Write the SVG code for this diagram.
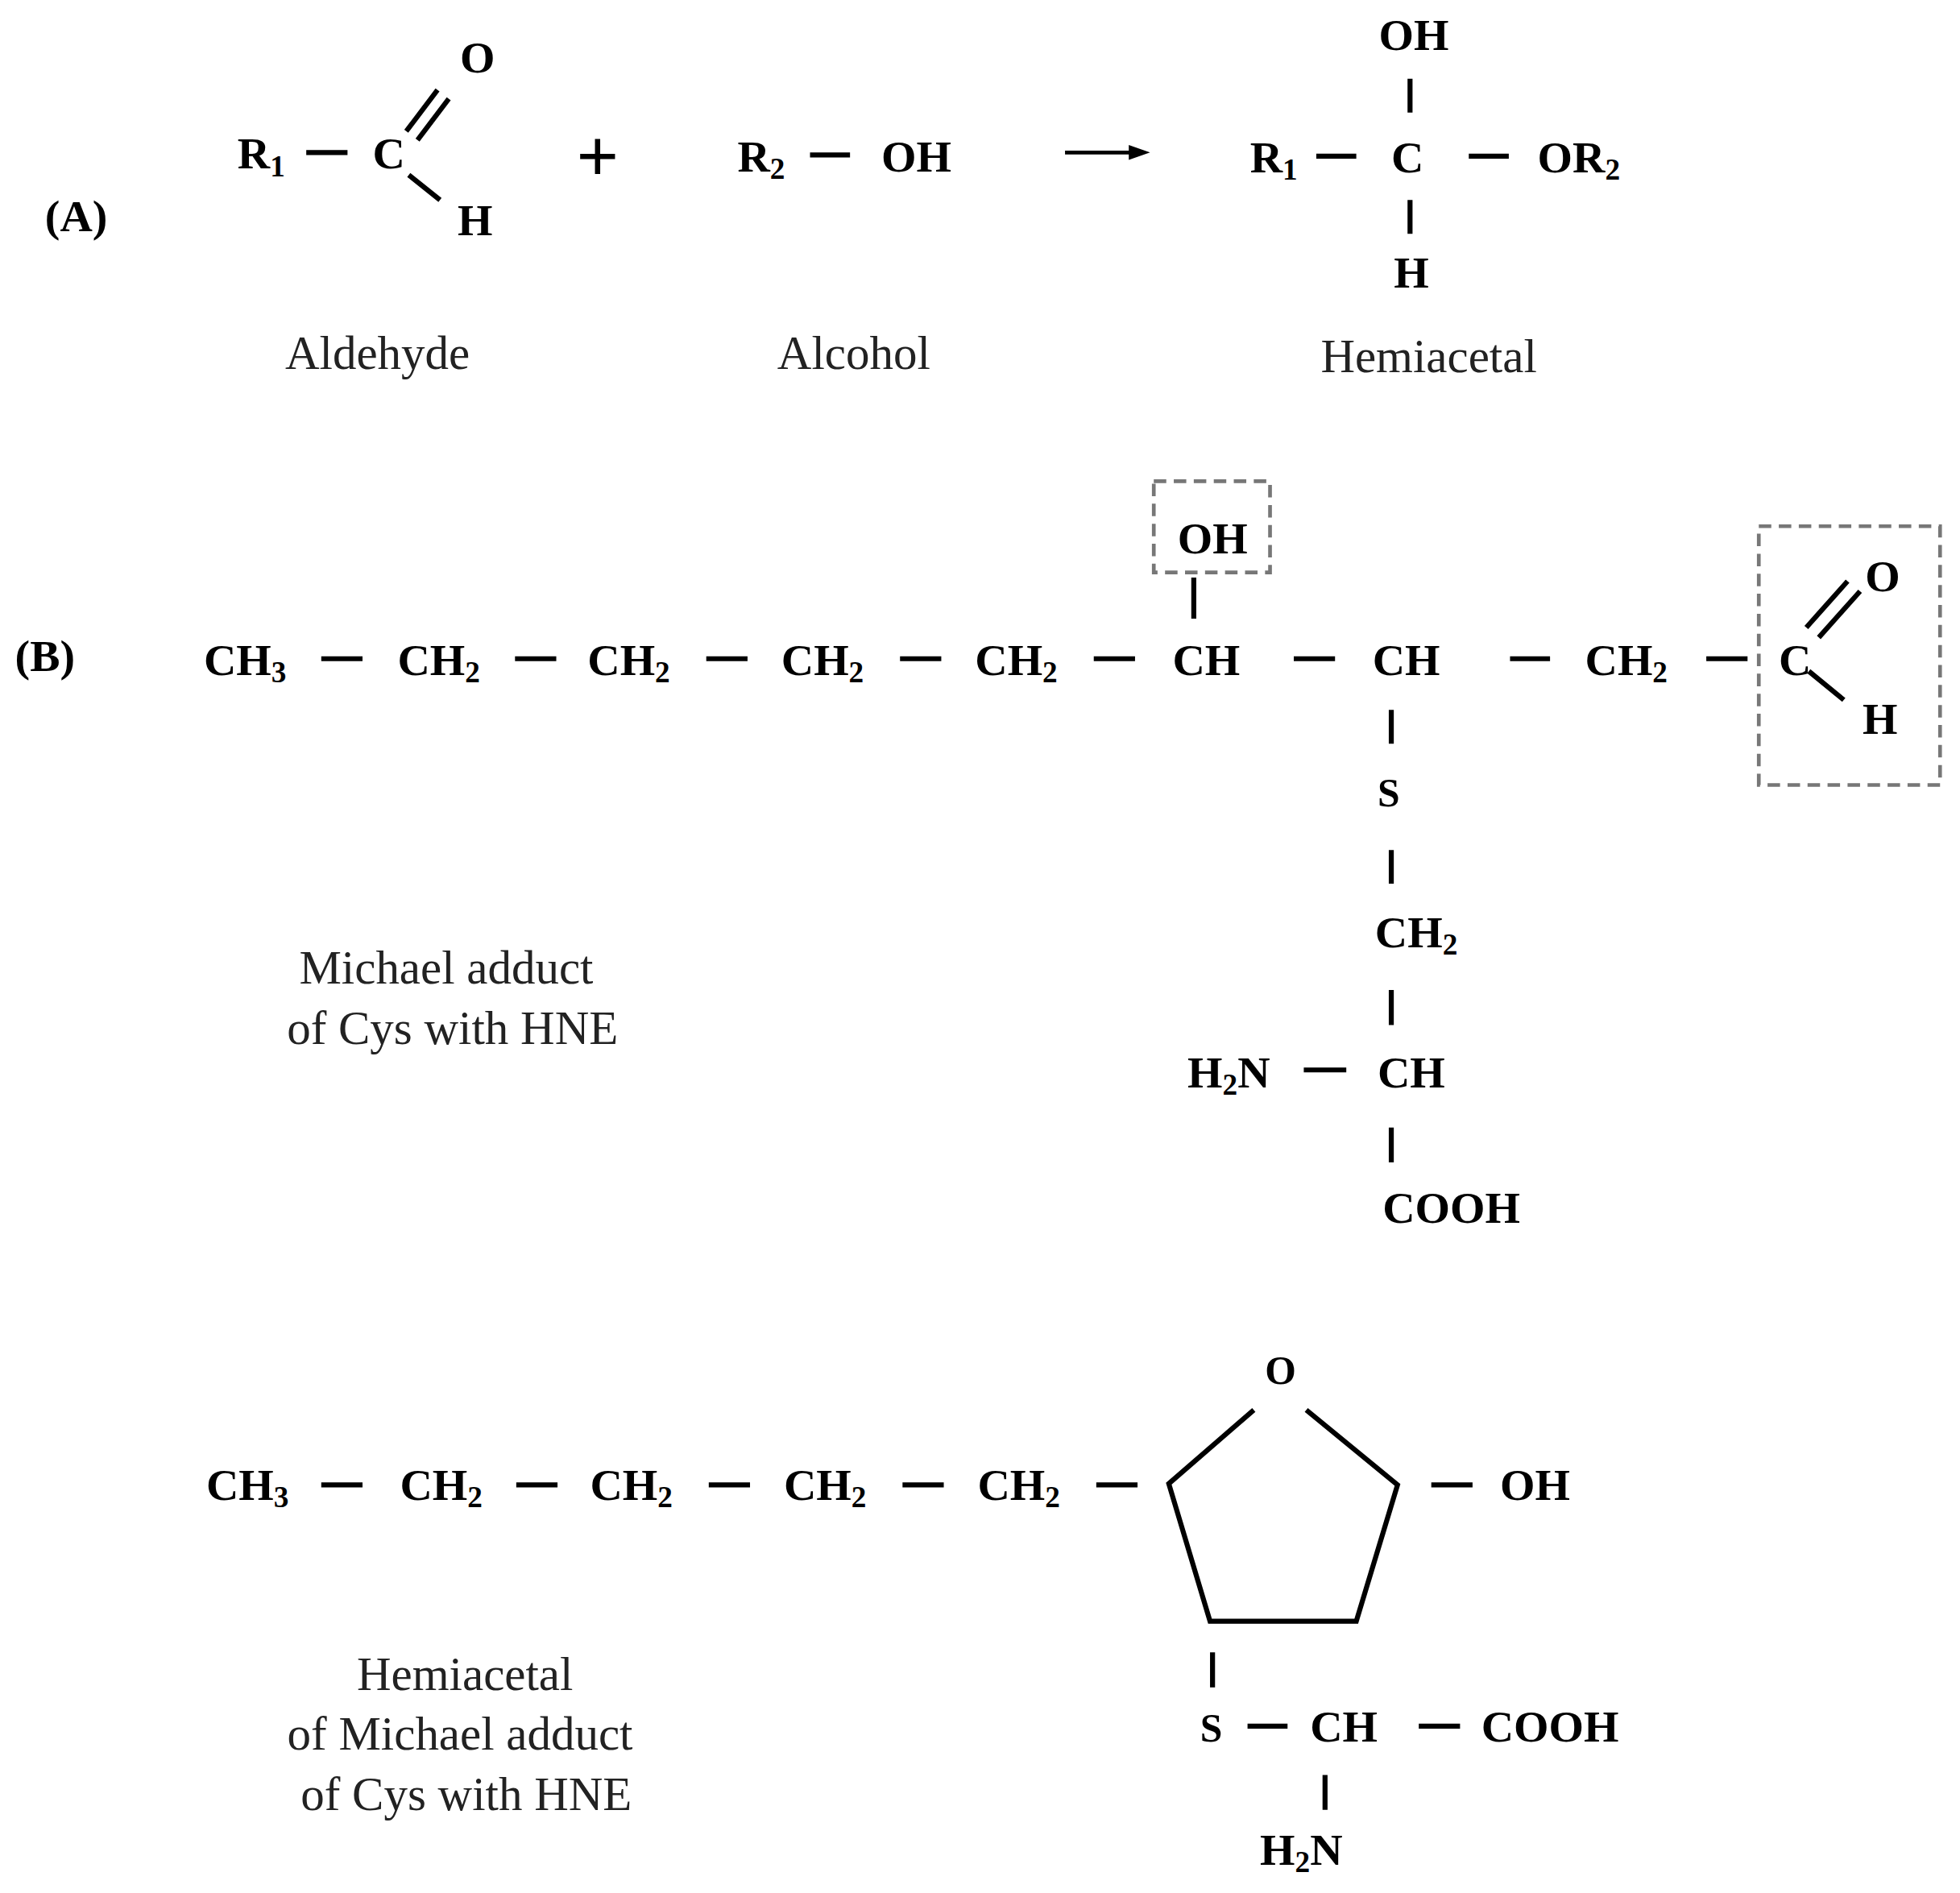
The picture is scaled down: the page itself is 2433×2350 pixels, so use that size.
<svg xmlns="http://www.w3.org/2000/svg" width="2433" height="2350" viewBox="0 0 2433 2350">
<style>
.c{font-family:"Liberation Serif",serif;font-weight:bold;font-size:36px;fill:#000}
.l{font-family:"Liberation Serif",serif;font-size:38px;fill:#222;text-anchor:middle}
.s{font-size:24px}
.b{stroke:#000;stroke-width:4;fill:none}
.d{stroke:#777;stroke-width:3;stroke-dasharray:10,6;fill:none}
</style>
<rect width="2433" height="2350" fill="#fff"/>
<g transform="scale(1.5517)">
<g id="A">
<text class="c" x="36" y="185">(A)</text>
<text class="c" x="190" y="135">R<tspan class="s" dy="6">1</tspan></text>
<text class="c" x="298" y="135">C</text>
<text class="c" x="368" y="58">O</text>
<text class="c" x="366" y="188">H</text>
<text class="c" x="478" y="125" style="font-size:60px;text-anchor:middle;dominant-baseline:central">+</text>
<text class="c" x="590" y="137">R<tspan class="s" dy="6">2</tspan></text>
<text class="c" x="705" y="137">OH</text>
<text class="c" x="1000" y="138">R<tspan class="s" dy="6">1</tspan></text>
<text class="c" x="1113" y="138">C</text>
<text class="c" x="1230" y="138">OR<tspan class="s" dy="6">2</tspan></text>
<text class="c" x="1103" y="40">OH</text>
<text class="c" x="1115" y="230">H</text>
<text class="l" x="302" y="295">Aldehyde</text>
<text class="l" x="683" y="295">Alcohol</text>
<text class="l" x="1143" y="298">Hemiacetal</text>
</g>
<g id="B">
<text class="c" x="12" y="537">(B)</text>
<text class="c" x="163" y="540">CH<tspan class="s" dy="6">3</tspan></text>
<text class="c" x="318" y="540">CH<tspan class="s" dy="6">2</tspan></text>
<text class="c" x="470" y="540">CH<tspan class="s" dy="6">2</tspan></text>
<text class="c" x="625" y="540">CH<tspan class="s" dy="6">2</tspan></text>
<text class="c" x="780" y="540">CH<tspan class="s" dy="6">2</tspan></text>
<text class="c" x="938" y="540">CH</text>
<text class="c" x="1098" y="540">CH</text>
<text class="c" x="1268" y="540">CH<tspan class="s" dy="6">2</tspan></text>
<text class="c" x="1423" y="540">C</text>
<text class="c" x="1492" y="473">O</text>
<text class="c" x="1490" y="587">H</text>
<text class="c" x="942" y="443">OH</text>
<text class="c" x="1102" y="645" style="font-size:32px">S</text>
<text class="c" x="1100" y="758">CH<tspan class="s" dy="6">2</tspan></text>
<text class="c" x="1102" y="870">CH</text>
<text class="c" x="950" y="870">H<tspan class="s" dy="6">2</tspan><tspan dy="-6">N</tspan></text>
<text class="c" x="1106" y="978">COOH</text>
<text class="l" x="357" y="787">Michael adduct</text>
<text class="l" x="362" y="835">of Cys with HNE</text>
<rect class="d" x="923" y="385" width="93" height="73"/>
<rect class="d" x="1407" y="421" width="145" height="207"/>
</g>
<g id="C">
<text class="c" x="165" y="1200">CH<tspan class="s" dy="6">3</tspan></text>
<text class="c" x="320" y="1200">CH<tspan class="s" dy="6">2</tspan></text>
<text class="c" x="472" y="1200">CH<tspan class="s" dy="6">2</tspan></text>
<text class="c" x="627" y="1200">CH<tspan class="s" dy="6">2</tspan></text>
<text class="c" x="782" y="1200">CH<tspan class="s" dy="6">2</tspan></text>
<text class="c" x="1012" y="1107" style="font-size:32px">O</text>
<text class="c" x="1200" y="1200">OH</text>
<text class="c" x="960" y="1393" style="font-size:32px">S</text>
<text class="c" x="1048" y="1393">CH</text>
<text class="c" x="1185" y="1393">COOH</text>
<text class="c" x="1008" y="1492">H<tspan class="s" dy="6">2</tspan><tspan dy="-6">N</tspan></text>
<text class="l" x="372" y="1352">Hemiacetal</text>
<text class="l" x="368" y="1400">of Michael adduct</text>
<text class="l" x="373" y="1448">of Cys with HNE</text>
</g>
<g id="connectors" class="b">
<path d="M245 122H278M325 105L350 72M334 112L359 79M327 140L352 160M648 124H680M1053 125H1085M1175 125H1207M1128 63V90M1128 160V187"/>
<path d="M852 122H910" stroke-width="3"/><path d="M903 116L920 122L903 128Z" fill="#000" stroke="none"/>
<path d="M257 527H290M412 527H445M565 527H598M720 527H753M875 527H908M1035 527H1068M1208 527H1240M1365 527H1398M955 462V495"/>
<path d="M1445 502L1478 465M1455 510L1488 473M1447 537L1475 560"/>
<path d="M1113 568V595M1113 680V707M1113 792V820M1113 902V930M1043 856H1077"/>
<path d="M257 1188H290M413 1188H446M567 1188H600M722 1188H755M877 1188H910"/>
<path d="M1003 1128L935 1187L968 1297H1085L1118 1188L1045 1128"/>
<path d="M1145 1188H1178M970 1322V1350M998 1381H1030M1135 1381H1168M1060 1420V1448"/>
</g>
</g>
</svg>
